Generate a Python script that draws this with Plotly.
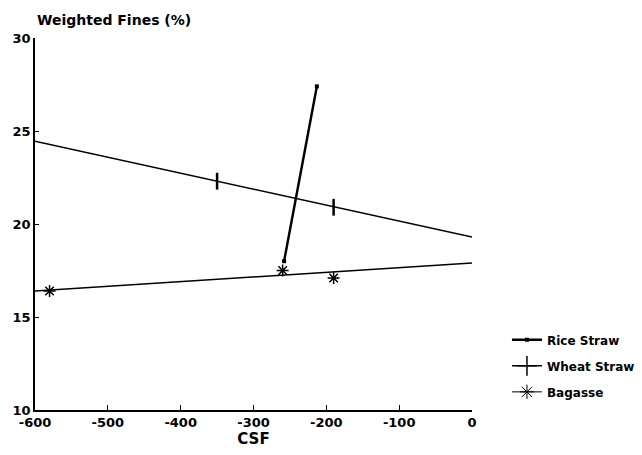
import plotly.graph_objects as go

# Data
x_ticks = [-600, -500, -400, -300, -200, -100, 0]
x_tick_labels = ["-600", "-500", "-400", "-300", "-200", "-100", "0"]
y_ticks = [10, 15, 20, 25, 30]
y_tick_labels = ["10", "15", "20", "25", "30"]

rice_x = [-258, -213]
rice_y = [18.0, 27.4]

wheat_fit_x = [-600, 0]
wheat_fit_y = [24.45, 19.3]
wheat_x = [-350, -190]
wheat_y = [22.3, 20.9]

bagasse_fit_x = [-600, 0]
bagasse_fit_y = [16.4, 17.9]
bagasse_x = [-580, -260, -190]
bagasse_y = [16.4, 17.5, 17.1]

FONT = "DejaVu Sans"
fig = go.Figure()

# Rice straw
fig.add_trace(go.Scatter(x=rice_x, y=rice_y, mode="lines+markers",
                         line=dict(color="black", width=2.5),
                         marker=dict(symbol="square", size=4, color="black"),
                         name="Rice Straw", legendgroup="r"))
# Wheat straw
fig.add_trace(go.Scatter(x=wheat_fit_x, y=wheat_fit_y, mode="lines",
                         line=dict(color="black", width=1.5), showlegend=False))
fig.add_trace(go.Scatter(x=wheat_x, y=wheat_y, mode="markers",
                         marker=dict(symbol="line-ns", size=12,
                                     line=dict(color="black", width=2.5)),
                         showlegend=False))
fig.add_trace(go.Scatter(x=[None], y=[None], mode="lines+markers",
                         line=dict(color="black", width=1.5),
                         marker=dict(symbol="cross-thin", size=14,
                                     line=dict(color="black", width=1.5)),
                         name="Wheat Straw", legendgroup="w"))
# Bagasse
fig.add_trace(go.Scatter(x=bagasse_fit_x, y=bagasse_fit_y, mode="lines",
                         line=dict(color="black", width=1.5), showlegend=False))
fig.add_trace(go.Scatter(x=bagasse_x, y=bagasse_y, mode="markers",
                         marker=dict(symbol="asterisk", size=10,
                                     line=dict(color="black", width=1.5)),
                         showlegend=False))
fig.add_trace(go.Scatter(x=[None], y=[None], mode="lines+markers",
                         line=dict(color="black", width=1),
                         marker=dict(symbol="asterisk", size=12,
                                     line=dict(color="black", width=1)),
                         name="Bagasse", legendgroup="b"))

fig.update_layout(
    width=634, height=447,
    margin=dict(l=27, r=170, t=30, b=45),
    paper_bgcolor="white", plot_bgcolor="white",
    font=dict(family=FONT, color="black", size=12, weight="bold"),
    showlegend=True,
    legend=dict(xref="container", yref="container", x=0.787, y=0.29,
                xanchor="left", yanchor="top",
                font=dict(size=12, family=FONT, weight="bold"),
                bgcolor="rgba(0,0,0,0)", itemwidth=30, tracegroupgap=7,
                traceorder="grouped"),
    xaxis=dict(range=[-600, 0], tickvals=x_ticks, ticktext=x_tick_labels,
               showgrid=False, zeroline=False, showline=True, automargin=False,
               linecolor="black", linewidth=1.5, ticks="inside", ticklen=5,
               tickcolor="black", tickfont=dict(size=13, weight="bold"),
               title=dict(text="CSF", font=dict(size=15, weight="bold"), standoff=2)),
    yaxis=dict(range=[10, 30], tickvals=y_ticks, ticktext=y_tick_labels,
               showgrid=False, zeroline=False, showline=True, automargin=False,
               linecolor="black", linewidth=1.5, ticks="inside", ticklen=4,
               tickcolor="black", tickfont=dict(size=13, weight="bold")),
    annotations=[dict(text="Weighted Fines (%)", xref="paper", yref="paper",
                      x=0, y=1, xanchor="left", yanchor="bottom", yshift=8,
                      showarrow=False, font=dict(size=14, weight="bold"))],
)

fig.write_html("out.html")
